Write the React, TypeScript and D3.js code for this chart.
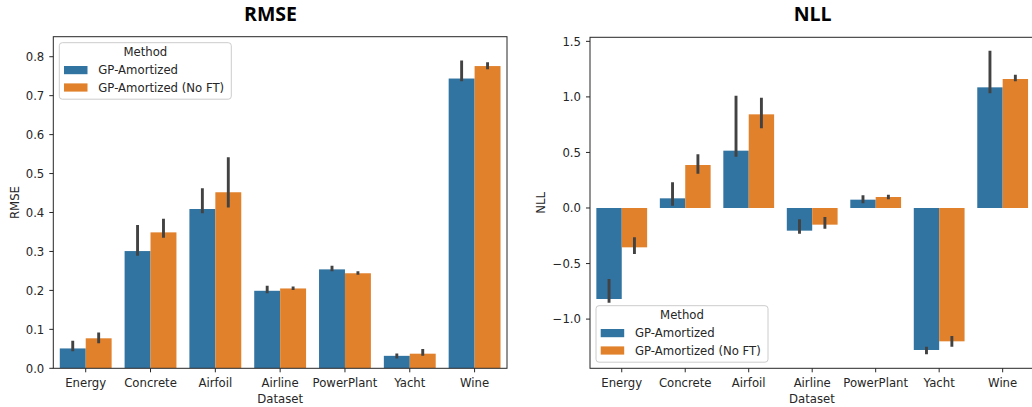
import React from "react";
import * as d3 from "d3";

const datasets = ["Energy", "Concrete", "Airfoil", "Airline", "PowerPlant", "Yacht", "Wine"];
const methods = ["GP-Amortized", "GP-Amortized (No FT)"];
const colors = ["#3274a1", "#e1812c"];

// RMSE: means and CI [lo, hi]
const rmseAmortized = [0.051, 0.301, 0.409, 0.199, 0.254, 0.032, 0.744];
const rmseAmortizedLo = [0.044, 0.289, 0.398, 0.193, 0.249, 0.025, 0.737];
const rmseAmortizedHi = [0.071, 0.368, 0.462, 0.212, 0.263, 0.038, 0.790];
const rmseNoFT = [0.077, 0.349, 0.452, 0.205, 0.244, 0.0375, 0.776];
const rmseNoFTLo = [0.064, 0.335, 0.413, 0.201, 0.240, 0.032, 0.768];
const rmseNoFTHi = [0.092, 0.384, 0.542, 0.210, 0.249, 0.0496, 0.786];

// NLL
const nllAmortized = [-0.819, 0.087, 0.516, -0.204, 0.075, -1.278, 1.086];
const nllAmortizedLo = [-0.852, 0.02, 0.462, -0.231, 0.042, -1.317, 1.032];
const nllAmortizedHi = [-0.639, 0.231, 1.011, -0.102, 0.114, -1.248, 1.416];
const nllNoFT = [-0.354, 0.387, 0.843, -0.15, 0.099, -1.2, 1.161];
const nllNoFTLo = [-0.414, 0.309, 0.717, -0.186, 0.078, -1.248, 1.14];
const nllNoFTHi = [-0.264, 0.483, 0.993, -0.081, 0.12, -1.152, 1.2];

const rmseTicks = [0, 0.1, 0.2, 0.3, 0.4, 0.5, 0.6, 0.7, 0.8];
const nllTicks = [-1.0, -0.5, 0, 0.5, 1.0, 1.5];

const FONT = "DejaVu Sans, sans-serif";
const TXT = "#262626";
const FS = 11.7;

type Series = { mean: number[]; lo: number[]; hi: number[] };

interface PanelProps {
  title: string;
  titleX: number;
  ylabel: string;
  ylabelX: number;
  left: number;
  right: number;
  top: number;
  bottom: number;
  yDomain: [number, number];
  ticks: number[];
  tickFmt: (v: number) => string;
  series: Series[];
  legendX: number;
  legendY: number;
}

function Panel(p: PanelProps) {
  const x = d3.scaleBand<string>().domain(datasets).range([p.left, p.right]).paddingInner(0).paddingOuter(0);
  const bw = x.bandwidth();
  const xh = d3.scaleBand<string>().domain(methods).range([0.1 * bw, 0.9 * bw]).padding(0);
  const y = d3.scaleLinear().domain(p.yDomain).range([p.bottom, p.top]);
  const y0 = y(0);
  const clipId = "clip-" + p.ylabel;
  const lw = 172;
  const lh = 56.5;
  return (
    <g>
      <defs>
        <clipPath id={clipId}>
          <rect x={p.left} y={p.top} width={p.right - p.left} height={p.bottom - p.top} />
        </clipPath>
      </defs>
      <text x={p.titleX} y={20.5} textAnchor="middle" fontFamily="Open Sans, sans-serif" fontWeight={700} fontSize={19.5} fill="#000">
        {p.title}
      </text>
      <g clipPath={`url(#${clipId})`}>
        {p.series.map((s, si) =>
          datasets.map((d, i) => {
            const bx = (x(d) as number) + (xh(methods[si]) as number);
            const v = s.mean[i];
            return (
              <rect
                key={`b-${si}-${i}`}
                x={bx}
                y={Math.min(y(v), y0)}
                width={xh.bandwidth()}
                height={Math.abs(y(v) - y0)}
                fill={colors[si]}
              />
            );
          })
        )}
        {p.series.map((s, si) =>
          datasets.map((d, i) => {
            const cx = (x(d) as number) + (xh(methods[si]) as number) + xh.bandwidth() / 2;
            return (
              <line
                key={`e-${si}-${i}`}
                x1={cx}
                x2={cx}
                y1={y(s.lo[i])}
                y2={y(s.hi[i])}
                stroke="#424242"
                strokeWidth={2.9}
              />
            );
          })
        )}
      </g>
      {/* spines */}
      <rect x={p.left} y={p.top} width={p.right - p.left} height={p.bottom - p.top} fill="none" stroke={TXT} strokeWidth={1} />
      {/* y ticks */}
      {p.ticks.map((t) => (
        <g key={`yt-${t}`}>
          <line x1={p.left - 4} x2={p.left} y1={y(t)} y2={y(t)} stroke={TXT} strokeWidth={1} />
          <text x={p.left - 9} y={y(t)} dy="0.36em" textAnchor="end" fontFamily={FONT} fontSize={FS} fill={TXT}>
            {p.tickFmt(t)}
          </text>
        </g>
      ))}
      {/* x ticks */}
      {datasets.map((d) => {
        const cx = (x(d) as number) + bw / 2;
        return (
          <g key={`xt-${d}`}>
            <line x1={cx} x2={cx} y1={p.bottom} y2={p.bottom + 4} stroke={TXT} strokeWidth={1} />
            <text x={cx} y={386.5} textAnchor="middle" fontFamily={FONT} fontSize={FS} fill={TXT}>
              {d}
            </text>
          </g>
        );
      })}
      <text x={(p.left + Math.min(p.right, 1032)) / 2 - (p.right > 1032 ? -1 : 0)} y={402.5} textAnchor="middle" fontFamily={FONT} fontSize={FS} fill={TXT}>
        Dataset
      </text>
      <text
        transform={`translate(${p.ylabelX},${(p.top + p.bottom) / 2}) rotate(-90)`}
        textAnchor="middle"
        fontFamily={FONT}
        fontSize={FS}
        fill={TXT}
      >
        {p.ylabel}
      </text>
      {/* legend */}
      <g transform={`translate(${p.legendX},${p.legendY})`}>
        <rect x={0} y={0} width={lw} height={lh} rx={3} fill="#ffffff" fillOpacity={0.85} stroke="#cccccc" strokeWidth={1} />
        <text x={86} y={13.3} textAnchor="middle" fontFamily={FONT} fontSize={FS} fill={TXT}>
          Method
        </text>
        {methods.map((m, mi) => (
          <g key={`lg-${m}`}>
            <rect x={4.7} y={23.3 + mi * 17.4} width={23.5} height={8.2} fill={colors[mi]} />
            <text x={39} y={31.5 + mi * 17.4} fontFamily={FONT} fontSize={FS} fill={TXT}>
              {m}
            </text>
          </g>
        ))}
      </g>
    </g>
  );
}

export default function App() {
  const rmseSeries: Series[] = [
    { mean: rmseAmortized, lo: rmseAmortizedLo, hi: rmseAmortizedHi },
    { mean: rmseNoFT, lo: rmseNoFTLo, hi: rmseNoFTHi },
  ];
  const nllSeries: Series[] = [
    { mean: nllAmortized, lo: nllAmortizedLo, hi: nllAmortizedHi },
    { mean: nllNoFT, lo: nllNoFTLo, hi: nllNoFTHi },
  ];
  return (
    <div style={{ position: "absolute", left: 0, top: 0, width: 1032, height: 407, overflow: "hidden" }}>
      <svg width={1032} height={407} viewBox="0 0 1032 407" style={{ display: "block", background: "#fff" }}>
        <rect x={0} y={0} width={1032} height={407} fill="#fff" />
        <Panel
          title="RMSE"
          titleX={270.5}
          ylabel="RMSE"
          ylabelX={19}
          left={53.3}
          right={507}
          top={36.7}
          bottom={368.3}
          yDomain={[0, 0.8514]}
          ticks={rmseTicks}
          tickFmt={(v) => v.toFixed(1)}
          series={rmseSeries}
          legendX={59.3}
          legendY={42.7}
        />
        <Panel
          title="NLL"
          titleX={812.7}
          ylabel="NLL"
          ylabelX={545}
          left={590}
          right={1034.4}
          top={37.3}
          bottom={368.3}
          yDomain={[-1.4428, 1.5364]}
          ticks={nllTicks}
          tickFmt={(v) => (v < 0 ? "\u2212" + Math.abs(v).toFixed(1) : v.toFixed(1))}
          series={nllSeries}
          legendX={596}
          legendY={305.7}
        />
      </svg>
    </div>
  );
}
